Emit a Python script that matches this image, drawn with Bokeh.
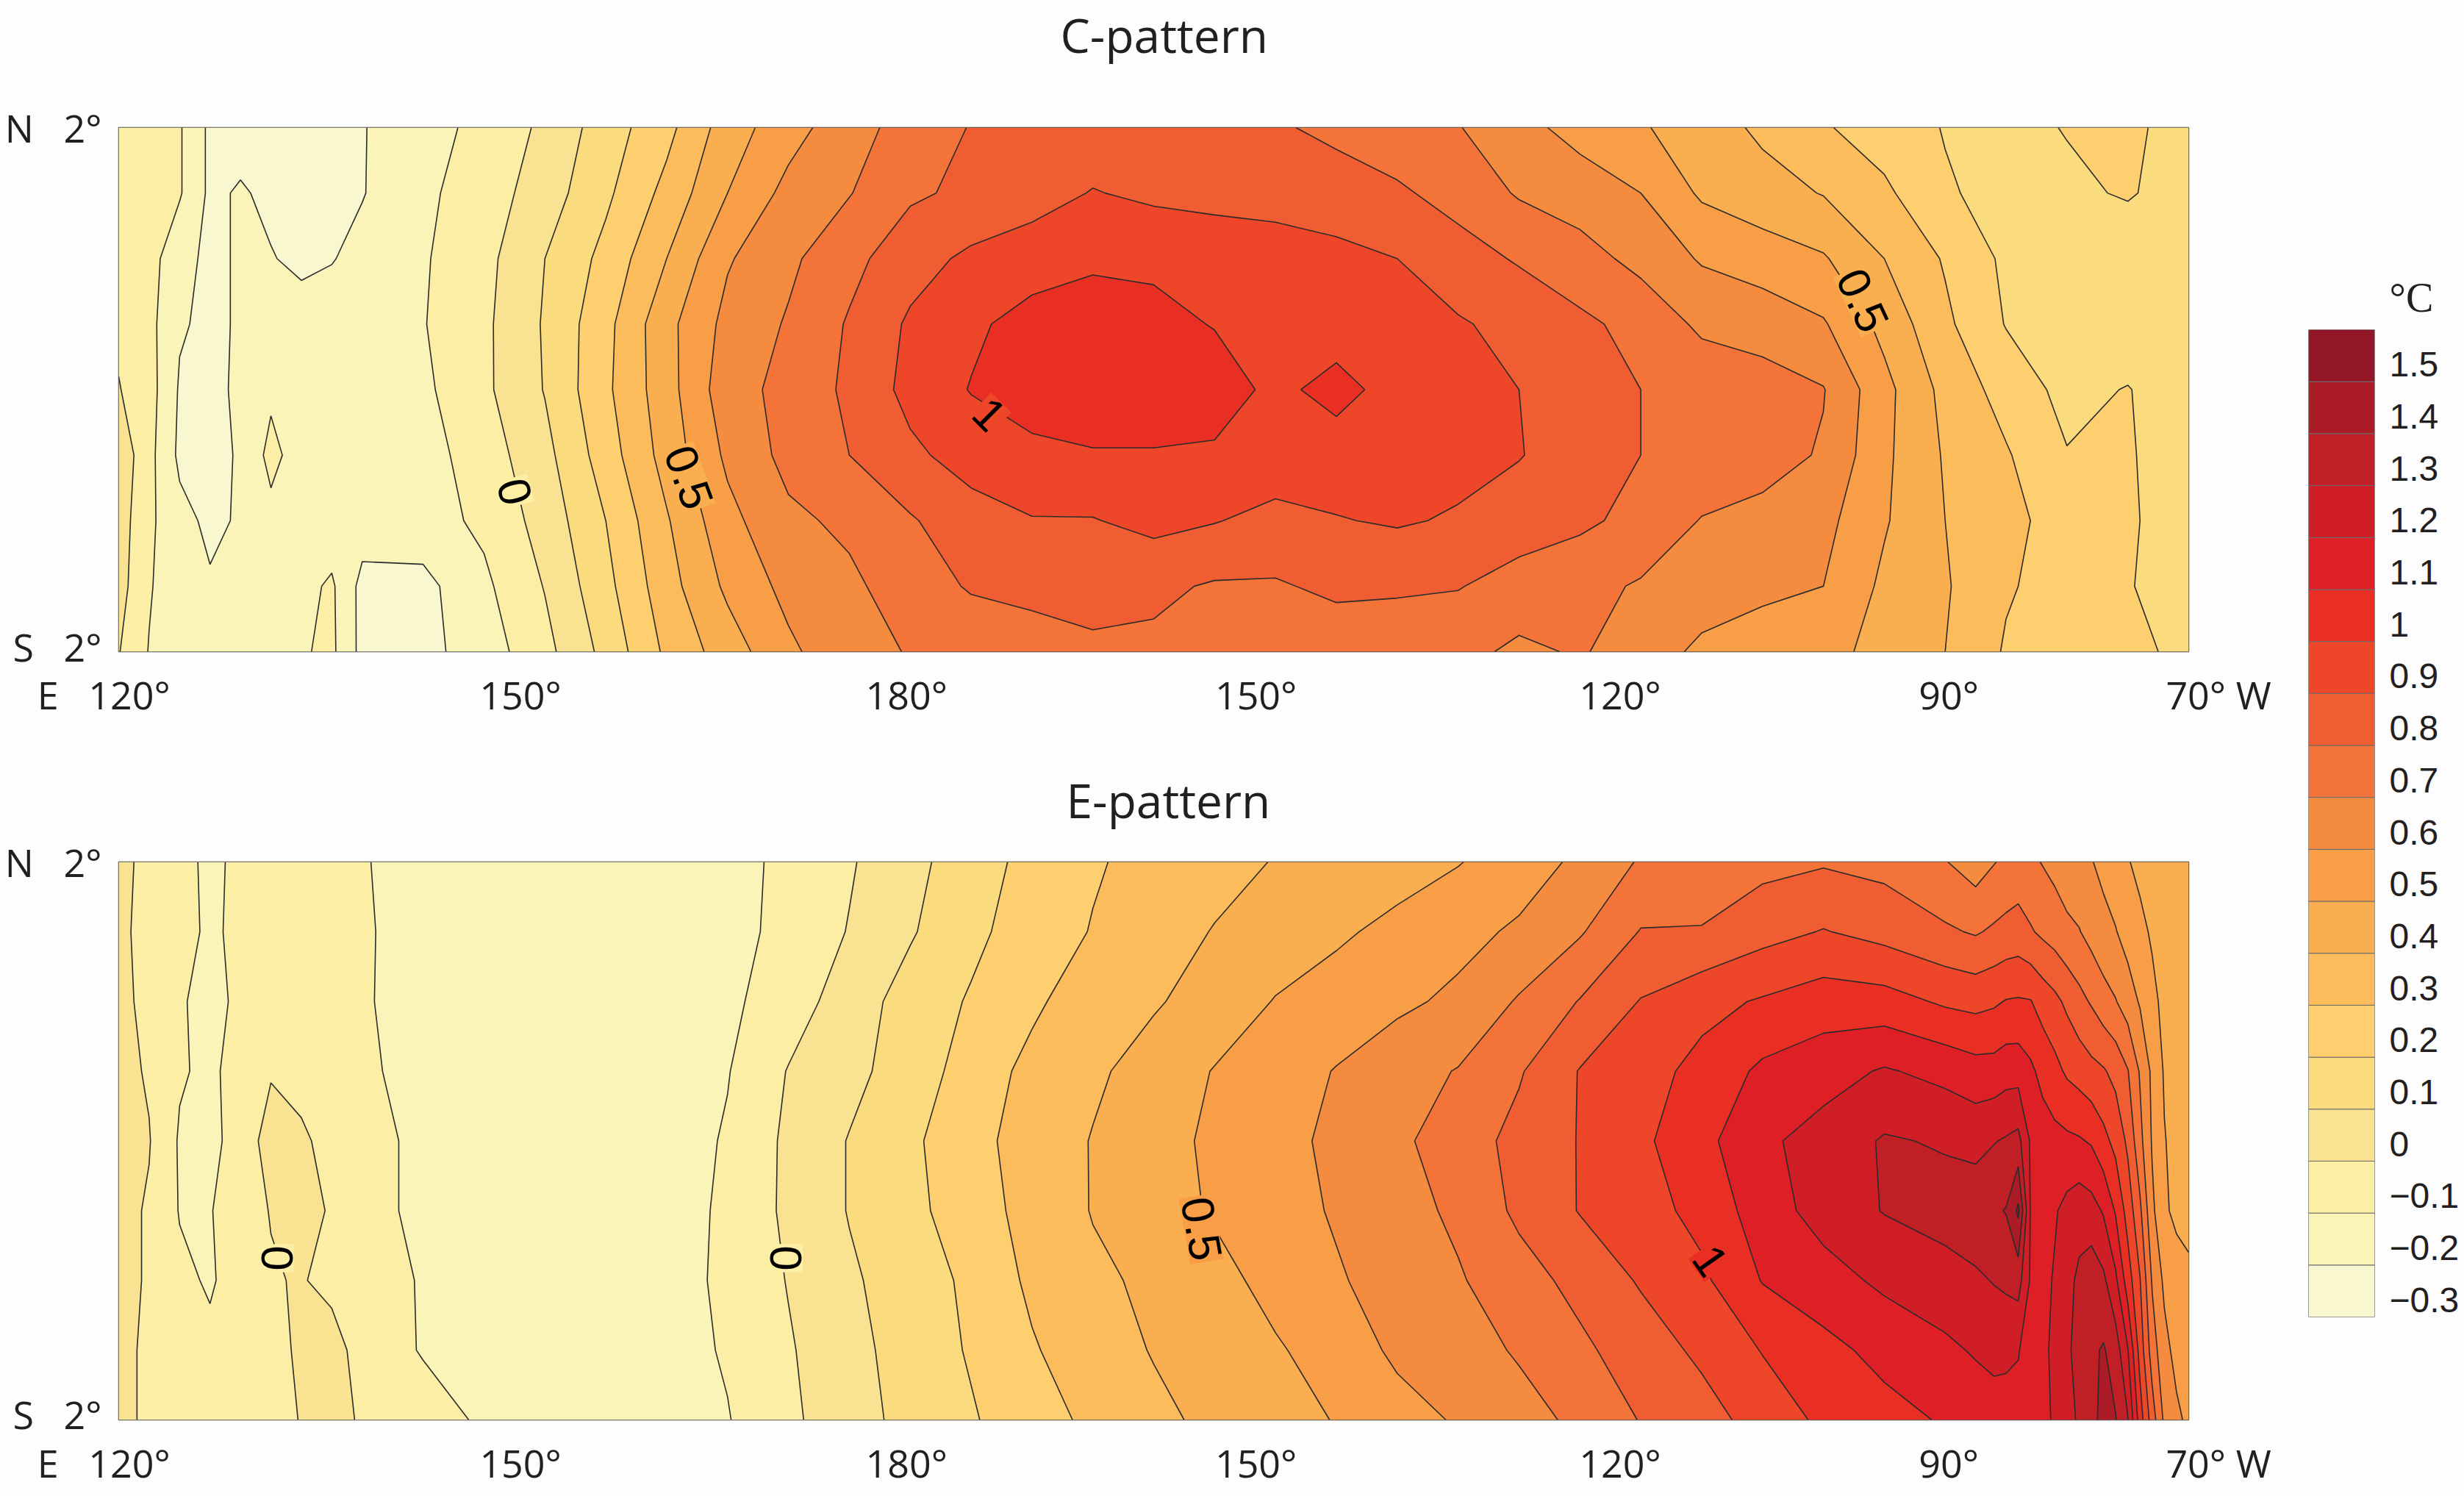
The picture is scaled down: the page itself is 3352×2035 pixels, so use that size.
import numpy as np
from bokeh.embed import file_html
from bokeh.layouts import column, row
from bokeh.models import FixedTicker, Label, LinearAxis, Title
from bokeh.plotting import figure
from bokeh.resources import INLINE

levels = [round(-0.3 + 0.1 * i, 1) for i in range(20)]
colors = ["#F9F7CF", "#FBF4B9", "#FCEEA5", "#F9E292", "#FADB7E", "#FDCF6F", "#FCBC5B",
          "#F9AE4F", "#F79E47", "#F58B3F", "#F37338", "#F15D32", "#EE4628", "#E92E24",
          "#DF1F26", "#CF1E26", "#C11F26", "#AB1C26", "#921626"]
legend_labels = ["\u22120.3", "\u22120.2", "\u22120.1", "0", "0.1", "0.2", "0.3", "0.4", "0.5", "0.6",
                 "0.7", "0.8", "0.9", "1", "1.1", "1.2", "1.3", "1.4", "1.5"]

lats = [2, 1.5, 1, 0.5, 0, -0.5, -1, -1.5, -2]
lons_c = [120, 122.5, 125, 127.5, 130, 132.5, 135, 137.5, 140, 145, 150, 155, 160, 165, 170, 175,
          180, 185, 190, 195, 200, 205, 210, 215, 220, 225, 230, 235, 240, 245, 250, 255, 260,
          265, 270, 275, 280, 285, 290]
lons_e = [120, 122.5, 125, 127.5, 130, 132.5, 135, 137.5, 140, 145, 150, 155, 160, 165, 170, 175,
          180, 185, 190, 195, 200, 205, 210, 215, 220, 225, 230, 235, 240, 245, 250, 255, 260,
          265, 270, 272.5, 274, 275, 276, 277, 278, 279, 280, 281, 282, 283, 284, 285, 286, 287,
          288, 289, 290]

# C-pattern, one list per latitude, north to south
c_n20 = [-.03, -.05, -.09, -.22, -.24, -.25, -.25, -.24, -.205, -.14, -.07, .02, .15, .27, .45, .56,
         .66, .74, .805, .83, .84, .84, .83, .81, .78, .74, .705, .63, .566, .51, .45, .38, .31, .25, .195, .17, .205, .22, .16]
c_n15 = [-.03, -.05, -.09, -.22, -.19, -.22, -.26, -.27, -.205, -.12, -.05, .05, .18, .33, .5, .63,
         .695, .785, .82, .86, .905, .88, .87, .86, .84, .815, .764, .69, .65, .6, .485, .44, .395, .32, .21, .17, .18, .21, .15]
c_n10 = [-.02, -.06, -.17, -.22, -.19, -.195, -.22, -.205, -.17, -.11, -.03, .1, .23, .4, .59, .68,
         .77, .86, .92, .95, .98, .98, .96, .95, .93, .9, .84, .79, .74, .67, .59, .55, .51, .4, .29, .18, .13, .13, .12]
c_n05 = [-.02, -.07, -.19, -.22, -.19, -.17, -.16, -.15, -.14, -.105, -.02, .11, .27, .47, .63, .71,
         .81, .915, .98, 1.04, 1.06, 1.03, .995, .97, .95, .93, .91, .87, .82, .77, .68, .66, .61, .47, .32, .195, .13, .13, .12]
c_eq = [0.005, -.06, -.21, -.23, -.18, -.12, -.15, -.15, -.14, -.12, -.02, .105, .28, .46, .66, .73,
        .82, .93, 1.005, 1.06, 1.08, 1.08, 1.05, .975, 1.035, .96, .94, .9, .85, .8, .77, .74, .705, .53, .37, .26, .17, .205, .13]
c_s05 = [.07, -.07, -.22, -.23, -.19, -.07, -.15, -.15, -.15, -.14, -.05, .07, .25, .44, .62, .73,
         .8, .88, .94, .97, .99, .99, .985, .96, .95, .94, .93, .905, .85, .8, .77, .74, .69, .52, .39, .31, .205, .21, .14]
c_s10 = [.05, -.08, -.17, -.22, -.19, -.13, -.16, -.16, -.15, -.14, -.08, .04, .2, .39, .57, .68,
         .72, .79, .86, .895, .895, .93, .905, .87, .895, .91, .89, .85, .82, .77, .695, .67, .63, .51, .4, .32, .27, .21, .16]
c_s15 = [.04, -.09, -.17, -.19, -.16, -.14, -.13, -.085, -.23, -.23, -.12, .005, .17, .36, .52, .63,
         .68, .75, .81, .83, .84, .82, .79, .79, .82, .82, .805, .76, .73, .69, .65, .64, .6, .48, .41, .31, .26, .205, .16]
c_s20 = [.005, -.105, -.15, -.17, -.16, -.13, -.11, -.08, -.23, -.23, -.15, -.03, .13, .32, .45, .58,
         .67, .705, .73, .75, .78, .78, .74, .73, .74, .71, .73, .68, .71, .65, .58, .51, .53, .47, .4, .29, .25, .21, .19]

# E-pattern
e_n20 = [.03, -.03, -.07, -.12, -.08, -.09, -.095, -.098, -.095, -.13, -.14, -.14, -.14, -.14, -.13, -.08, -.01, .07, .155, .23, .29,
         .33, .365, .405, .43, .46, .495, .55, .62, .71, .75, .77, .79, .77, .705, .65, .695, .72, .74, .72, .695, .67, .65, .625, .605, .575, .54, .505, .48, .46, .44, .43, .42]
e_n15 = [.02, -.03, -.07, -.115, -.08, -.09, -.095, -.095, -.09, -.135, -.145, -.15, -.15, -.145, -.135, -.07, .005, .09, .175, .25, .305,
         .354, .405, .445, .485, .525, .57, .615, .69, .805, .805, .865, .905, .866, .815, .79, .815, .83, .84, .81, .78, .755, .72, .705, .665, .63, .605, .56, .52, .49, .46, .445, .43]
e_n10 = [.03, -.03, -.09, -.13, -.08, -.08, -.085, -.09, -.09, -.14, -.16, -.16, -.16, -.155, -.12, -.05, .05, .14, .21, .28, .36,
         .39, .44, .505, .54, .58, .62, .71, .805, .905, .97, 1.01, 1.05, 1.04, .985, .97, .985, 1.005, 1.01, 1.005, .96, .925, .88, .83, .79, .74, .705, .65, .59, .52, .48, .46, .44]
e_n05 = [.03, -.01, -.09, -.12, -.06, -.01, -.04, -.07, -.085, -.13, -.16, -.17, -.17, -.15, -.105, .005, .07, .15, .24, .33, .383,
         .44, .505, .55, .605, .66, .705, .79, .905, .96, 1.03, 1.12, 1.16, 1.21, 1.17, 1.14, 1.14, 1.16, 1.16, 1.12, 1.07, 1.03, .985, .96, .93, .91, .87, .805, .69, .58, .49, .46, .44]
e_eq = [.03, .005, -.11, -.12, -.07, .05, .02, -.04, -.07, -.12, -.17, -.17, -.17, -.15, -.09, .02, .105, .18, .27, .34, .405,
        .46, .52, .57, .62, .68, .75, .83, .905, .98, 1.07, 1.18, 1.24, 1.31, 1.29, 1.27, 1.295, 1.31, 1.33, 1.19, 1.15, 1.13, 1.12, 1.11, 1.09, 1.03, .97, .88, .73, .59, .505, .47, .45]
e_s05 = [.03, -.01, -.105, -.105, -.05, .005, .07, -.02, -.07, -.12, -.17, -.17, -.17, -.15, -.08, .02, .105, .17, .26, .33, .405,
         .46, .51, .56, .61, .66, .72, .82, .905, .96, 1.03, 1.15, 1.24, 1.305, 1.34, 1.36, 1.385, 1.405, 1.52, 1.195, 1.17, 1.19, 1.23, 1.26, 1.24, 1.19, 1.09, .96, .82, .62, .52, .47, .44]
e_s10 = [.03, -.01, -.08, -.11, -.06, -.01, .01, -.04, -.07, -.105, -.16, -.17, -.17, -.14, -.08, .005, .085, .15, .22, .32, .38,
         .42, .47, .53, .59, .64, .69, .76, .83, .91, .98, 1.105, 1.16, 1.22, 1.26, 1.285, 1.305, 1.32, 1.34, 1.19, 1.17, 1.21, 1.27, 1.32, 1.36, 1.32, 1.22, 1.05, .905, .69, .58, .56, .54]
e_s15 = [.03, -.02, -.07, -.08, -.07, -.04, .02, .06, -.06, -.105, -.14, -.16, -.16, -.14, -.09, -.01, .07, .14, .21, .29, .36,
         .405, .45, .49, .54, .62, .66, .71, .78, .85, .92, 1.005, 1.07, 1.13, 1.18, 1.21, 1.23, 1.22, 1.205, 1.16, 1.18, 1.22, 1.28, 1.34, 1.38, 1.41, 1.35, 1.205, .96, .75, .63, .57, .55]
e_s20 = [.03, -.02, -.05, -.06, -.07, -.04, .005, .06, -.02, -.07, -.11, -.15, -.15, -.13, -.105, -.02, .06, .13, .19, .26, .32,
         .38, .42, .46, .505, .56, .61, .665, .72, .805, .86, .94, 1.02, 1.065, 1.11, 1.14, 1.15, 1.16, 1.17, 1.18, 1.19, 1.205, 1.25, 1.32, 1.38, 1.42, 1.405, 1.305, 1.05, .85, .68, .62, .58]

NB = "\u00a0"
lon_ticks = [120.0, 153.0, 184.7, 213.4, 243.3, 270.3, 290.0]
# no-break spaces keep the E and W letters in the end labels and shift them off their ticks
lon_labels = ["E" + NB * 3 + "120\u00b0" + NB * 3, "150\u00b0", "180\u00b0", "150\u00b0", "120\u00b0", "90\u00b0",
              NB * 6 + "70\u00b0" + NB + "W"]
lat_ticks = [2, -1.96]
lat_labels = ["N" + NB * 3 + "2\u00b0", "S" + NB * 3 + "2\u00b0"]

# contour labels: text, lon, lat, angle, background cell
c_tags = [("0", 152.5, -0.78, -75, 2), ("0.5", 166.8, -0.67, -70, 7), ("0.5", 263.2, 0.68, -65, 7), ("1", 191.5, -0.19, -45, 12)]
e_tags = [("0", 133.0, -0.84, -90, 2), ("0", 174.8, -0.84, -90, 2), ("0.5", 208.9, -0.63, -80, 8), ("1", 250.7, -0.86, -55, 13)]

AXIS_FONT = "Open Sans"
BG = "#fdfdfd"


def panel(title, lons, rows, tags, frame_h, top, bottom, title_x, gap):
    z = np.array(rows[::-1])
    p = figure(frame_width=2816, frame_height=frame_h, x_range=(120, 290), y_range=(-2, 2),
               min_border_left=161, min_border_right=153, min_border_top=top, min_border_bottom=bottom,
               output_backend="svg", toolbar_location=None, background_fill_color=BG, border_fill_color=BG)
    p.contour(lons, lats[::-1], z, levels, fill_color=colors, line_color="#2b2b2b", line_width=1.6)
    p.grid.visible = False
    p.outline_line_color = "#555555"
    p.outline_line_width = 1.5

    p.xaxis.ticker = FixedTicker(ticks=lon_ticks)
    p.xaxis.major_label_overrides = dict(zip(lon_ticks, lon_labels))
    p.yaxis.ticker = FixedTicker(ticks=lat_ticks)
    p.yaxis.major_label_overrides = dict(zip(lat_ticks, lat_labels))
    for ax in (p.xaxis, p.yaxis):
        ax.axis_line_color = None
        ax.major_tick_line_color = None
        ax.minor_tick_line_color = None
        ax.major_label_text_font = AXIS_FONT
        ax.major_label_text_font_size = "52px"
        ax.major_label_text_color = "#231f20"
    p.xaxis.major_label_standoff = 16
    p.yaxis.major_label_standoff = 17
    p.yaxis.major_label_orientation = "horizontal"

    for text, lon, lat, ang, cell in tags:
        p.add_layout(Label(x=lon, y=lat, text=text, angle=ang, angle_units="deg", text_align="center",
                           text_baseline="middle", text_font="Liberation Sans", text_font_size="62px",
                           text_color="black", background_fill_color=colors[cell], padding=2))
    # blank title lifts the real one up to the top of the border
    p.add_layout(Title(text=NB, text_font_size="1px", standoff=gap), "above")
    p.add_layout(Title(text=title, align="left", offset=title_x, standoff=0, text_font=AXIS_FONT,
                       text_font_size="64px", text_font_style="normal", text_color="#231f20"), "above")
    return p


p1 = panel("C-pattern", lons_c, [c_n20, c_n15, c_n10, c_n05, c_eq, c_s05, c_s10, c_s15, c_s20],
           c_tags, 713, 173, 154, 1281, 80)
p2 = panel("E-pattern", lons_e, [e_n20, e_n15, e_n10, e_n05, e_eq, e_s05, e_s10, e_s15, e_s20],
           e_tags, 759, 132, 103, 1289, 38)

# colour key
key = figure(frame_width=90, frame_height=1343, x_range=(0, 1), y_range=(-0.3, 1.6),
             min_border_left=10, min_border_right=120, min_border_top=448, min_border_bottom=243,
             output_backend="svg", toolbar_location=None, background_fill_color=BG, border_fill_color=BG,
             x_axis_location=None, y_axis_location=None)
key.quad(left=0, right=1, bottom=levels[:-1], top=levels[1:], fill_color=colors, line_color="#6b6b6b", line_width=1)
key.grid.visible = False
key.outline_line_color = "#bdbdbd"
key_ticks = [round(v + 0.033, 3) for v in levels[:-1]]
key_axis = LinearAxis(ticker=FixedTicker(ticks=key_ticks), major_label_overrides=dict(zip(key_ticks, legend_labels)))
key_axis.axis_line_color = None
key_axis.major_tick_line_color = None
key_axis.minor_tick_line_color = None
key_axis.major_label_text_font = "Liberation Sans"
key_axis.major_label_text_font_size = "48px"
key_axis.major_label_text_color = "#231f20"
key_axis.major_label_standoff = 14
key.add_layout(key_axis, "right")
key.add_layout(Title(text="\u00b0C", align="left", offset=110, standoff=26, text_font="Liberation Serif",
                     text_font_size="56px", text_font_style="normal", text_color="#231f20"), "above")

page = row(column(p1, p2), key)
open("out.html", "w").write(file_html(page, INLINE))
